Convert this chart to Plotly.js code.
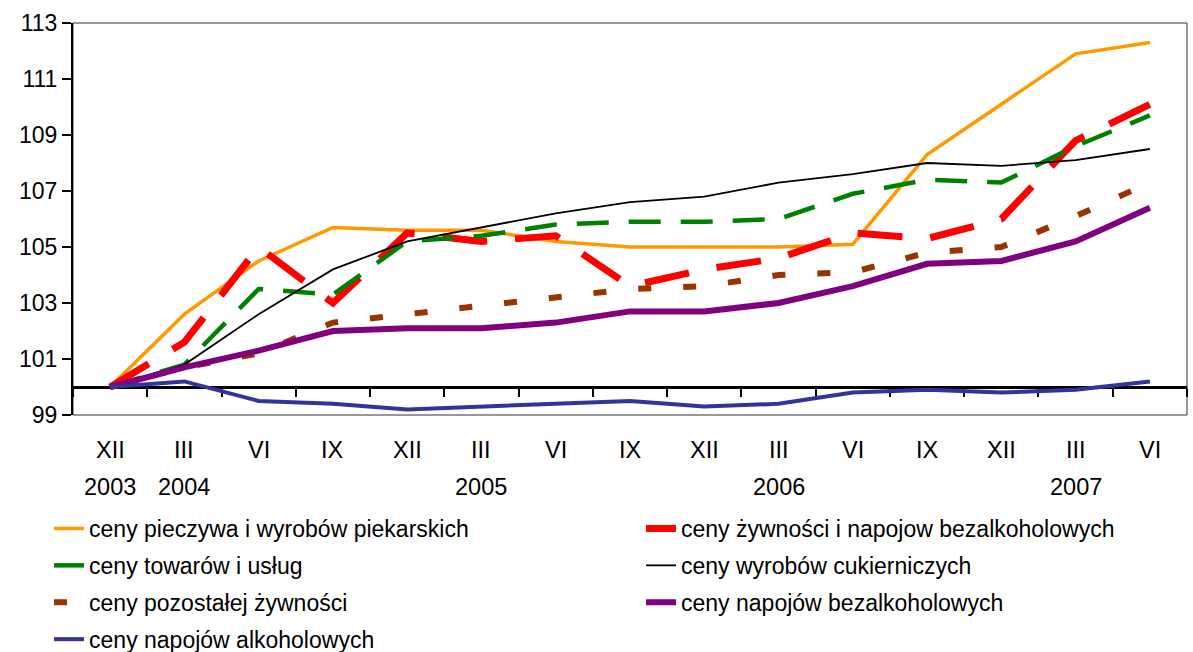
<!DOCTYPE html>
<html>
<head>
<meta charset="utf-8">
<script src="https://cdn.plot.ly/plotly-3.0.1.min.js"></script>
<style>
  html, body { margin: 0; padding: 0; background: #fff; }
  #chart { width: 1193px; height: 652px; }
</style>
</head>
<body>
<div id="chart"></div>
<script>
const months = ['XII', 'III', 'VI', 'IX', 'XII', 'III', 'VI', 'IX', 'XII', 'III', 'VI', 'IX', 'XII', 'III', 'VI'];
const years = ['2003', '2004', '', '', '', '2005', '', '', '', '2006', '', '', '', '2007', ''];
const cats = months.map((m, i) => i);

const bakery    = [100, 102.6, 104.5, 105.7, 105.6, 105.6, 105.2, 105.0, 105.0, 105.0, 105.1, 108.3, 110.1, 111.9, 112.3];
const foodBev   = [100, 101.6, 105.0, 103.0, 105.5, 105.2, 105.4, 103.6, 104.2, 104.6, 105.5, 105.3, 106.0, 108.8, 110.1];
const goodsServ = [100, 100.8, 103.5, 103.3, 105.2, 105.4, 105.8, 105.9, 105.9, 106.0, 106.9, 107.4, 107.3, 108.6, 109.7];
const confect   = [100, 100.8, 102.6, 104.2, 105.2, 105.7, 106.2, 106.6, 106.8, 107.3, 107.6, 108.0, 107.9, 108.1, 108.5];
const otherFood = [100, 100.7, 101.2, 102.3, 102.6, 102.9, 103.2, 103.5, 103.6, 104.0, 104.1, 104.8, 105.0, 106.1, 107.3];
const softDrink = [100, 100.7, 101.3, 102.0, 102.1, 102.1, 102.3, 102.7, 102.7, 103.0, 103.6, 104.4, 104.5, 105.2, 106.4];
const alcohol   = [100, 100.2, 99.5, 99.4, 99.2, 99.3, 99.4, 99.5, 99.3, 99.4, 99.8, 99.9, 99.8, 99.9, 100.2];

const font = 'Arial, "Liberation Sans", sans-serif';

function line(y, name, color, width, dash, legend) {
    return {
        x: cats,
        y: y,
        type: 'scatter',
        mode: 'lines',
        name: name,
        legend: legend,
        legendgroup: name,
        line: { color: color, width: width, dash: dash || 'solid' }
    };
}

// left legend column: legend, right column: legend2
const traces = [
    line(bakery, 'ceny pieczywa i wyrobów piekarskich', '#FF9900', 3.5, 'solid', 'legend'),
    line(foodBev, 'ceny żywności i napojow bezalkoholowych', '#FF0000', 7, '45px,28px', 'legend2'),
    line(goodsServ, 'ceny towarów i usług', '#008000', 4.5, '32px,20px', 'legend'),
    line(confect, 'ceny wyrobów cukierniczych', '#000000', 1.8, 'solid', 'legend2'),
    line(otherFood, 'ceny pozostałej żywności', '#993300', 6, '13px,32px', 'legend'),
    line(softDrink, 'ceny napojów bezalkoholowych', '#800080', 6, 'solid', 'legend2'),
    line(alcohol, 'ceny napojów alkoholowych', '#333399', 4, 'solid', 'legend')
];

const annotations = [];
months.forEach((m, i) => {
    annotations.push({
        x: i, y: -0.089, xref: 'x', yref: 'paper',
        text: m, showarrow: false, yanchor: 'middle',
        font: { family: font, size: 23.5, color: '#000' }
    });
    if (years[i]) {
        annotations.push({
            x: i, y: -0.184, xref: 'x', yref: 'paper',
            text: years[i], showarrow: false, yanchor: 'middle',
            font: { family: font, size: 23.5, color: '#000' }
        });
    }
});

const legendBase = {
    orientation: 'v',
    xref: 'paper',
    yref: 'container',
    xanchor: 'left',
    y: 0.2224,
    yanchor: 'top',
    traceorder: 'grouped',
    tracegroupgap: 4,
    font: { family: font, size: 23, color: '#000' },
    bgcolor: 'rgba(0,0,0,0)'
};

const layout = {
    width: 1193,
    height: 652,
    margin: { l: 73, r: 6, t: 23, b: 237 },
    paper_bgcolor: '#fff',
    plot_bgcolor: '#fff',
    font: { family: font, size: 22, color: '#000' },
    xaxis: {
        type: 'linear',
        range: [-0.5, 14.5],
        anchor: 'free',
        position: 1 / 14,
        showline: true,
        linecolor: '#000',
        linewidth: 2.5,
        ticks: 'outside',
        tickmode: 'linear',
        tick0: -0.5,
        dtick: 1,
        ticklen: 8,
        tickwidth: 2,
        tickcolor: '#000',
        showticklabels: false,
        showgrid: false,
        zeroline: false,
        layer: 'below traces'
    },
    yaxis: {
        range: [99, 113],
        tickmode: 'linear',
        tick0: 99,
        dtick: 2,
        showline: true,
        linecolor: '#000',
        linewidth: 2,
        ticks: 'outside',
        ticklen: 9,
        tickwidth: 2,
        tickcolor: '#000',
        showgrid: false,
        zeroline: false,
        tickfont: { family: font, size: 23 }
    },
    shapes: [{
        type: 'rect', xref: 'paper', yref: 'paper',
        x0: 0, x1: 1, y0: 0, y1: 1,
        line: { color: '#333', width: 1 },
        layer: 'below'
    }],
    annotations: annotations,
    showlegend: true,
    legend: Object.assign({}, legendBase, { x: -0.0215 }),
    legend2: Object.assign({}, legendBase, { x: 0.5099 })
};

Plotly.newPlot('chart', traces, layout, { displayModeBar: false, staticPlot: true });
</script>
</body>
</html>
